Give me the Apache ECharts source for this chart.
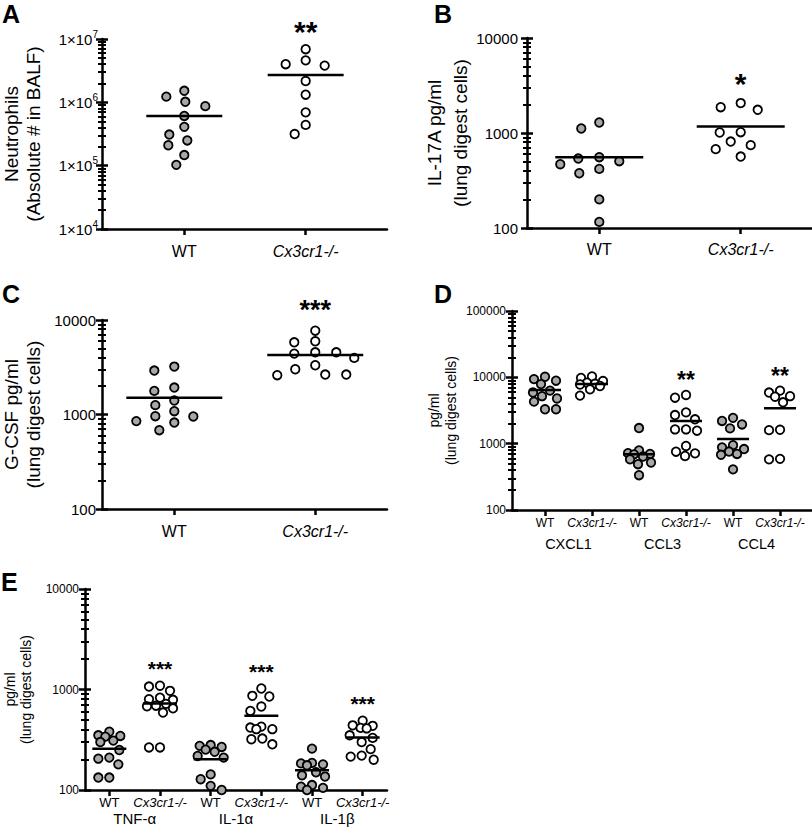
<!DOCTYPE html>
<html><head><meta charset="utf-8">
<script src="https://cdn.jsdelivr.net/npm/echarts@6/dist/echarts.min.js"></script>
<style>html,body{margin:0;padding:0;background:#fff}#c{width:812px;height:837px}</style>
</head><body><div id="c"></div>
<script>
// ---------------- data ----------------
const genotypes = ['WT', 'Cx3cr1-/-'];

// A: Neutrophils (absolute # in BALF)
const neutrophilsWT = [1.52e6, 1.23e6, 1.02e6, 8.7e5, 6.1e5, 4.1e5, 3.1e5, 2.5e5, 2.1e5, 1.47e5, 1.03e5];
const neutrophilsKO = [6.9e6, 4.6e6, 4.0e6, 3.8e6, 2.17e6, 1.32e6, 6.95e5, 4.4e5, 3.16e5];
const neutrophilsLines = [6.1e5, 2.7e6];
const neutrophilsSig = ['', '**'];
const neutrophilsTicks = [1e4, 1e5, 1e6, 1e7];

// B: IL-17A
const il17aWT = [1290, 1115, 556, 538, 505, 469, 419, 377, 200, 116];
const il17aKO = [2065, 1870, 1755, 1020, 1012, 813, 745, 676, 565];
const il17aLines = [556, 1170];
const il17aSig = ['', '*'];
const il17aTicks = [100, 1000, 10000];

// C: G-CSF
const gcsfWT = [3214, 2917, 1928, 1778, 1406, 1256, 1084, 960, 953, 851, 822, 682];
const gcsfKO = [7710, 5955, 5808, 4550, 4550, 4408, 3972, 3320, 3012, 2648, 2648, 2604];
const gcsfLines = [1500, 4264];
const gcsfSig = ['', '***'];
const gcsfTicks = [100, 1000, 10000];

// D: chemokines
const chemokines = ['CXCL1', 'CCL3', 'CCL4'];
const cxcl1WT = [10200, 9400, 8900, 7900, 6300, 5900, 5200, 4800, 4300, 3300, 3300];
const cxcl1KO = [10300, 9800, 8800, 8300, 8000, 7800, 7400, 6600, 5300];
const ccl3WT = [1720, 790, 720, 700, 690, 640, 580, 520, 490, 335];
const ccl3KO = [5420, 4930, 2960, 2700, 2330, 1640, 1640, 1570, 923, 757, 714, 652];
const ccl4WT = [2450, 2200, 1950, 1700, 950, 880, 830, 760, 700, 680, 410];
const ccl4KO = [6300, 5900, 5200, 5100, 4200, 1620, 1600, 590, 580];
const chemokineLines = [6440, 7930, 690, 2200, 1175, 3410];
const chemokineSig = ['', '', '', '**', '', '**'];
const chemokineTicks = [100, 1000, 10000, 100000];

// E: cytokines
const cytokines = ['TNF-\u03b1', 'IL-1\u03b1', 'IL-1\u03b2'];
const tnfWT = [380, 350, 345, 340, 310, 300, 250, 210, 205, 180, 133, 133];
const tnfKO = [1090, 1070, 970, 830, 800, 790, 720, 690, 680, 650, 590, 265, 265];
const il1aWT = [280, 275, 268, 252, 240, 218, 210, 143, 128, 110, 100];
const il1aKO = [1023, 865, 852, 677, 612, 427, 418, 403, 403, 325, 320, 285];
const il1bWT = [258, 186, 184, 180, 176, 150, 140, 136, 112, 108, 105, 100];
const il1bKO = [490, 440, 435, 415, 410, 350, 330, 300, 255, 220, 215, 200];
const cytokineLines = [258, 725, 202, 547, 157, 333];
const cytokineSig = ['', '***', '', '***', '', '***'];
const cytokineTicks = [100, 1000, 10000];

// ---------------- layout / style ----------------
const FONT = '"Liberation Sans", Arial, Helvetica, sans-serif';
const panels = [
  { letter: 'A', lx: 2, ly: 1, grid: { left: 102, top: 39, width: 285, height: 190 },
    xmin: -0.678, xmax: 1.67, ymin: 1e4, ymax: 1e7, ticks: neutrophilsTicks, sci: true,
    tickFont: 15, yLabelMargin: 4, yName: 'Neutrophils\n(Absolute # in BALF)', nameGap: 58, nameFont: 19, nameLH: 22,
    sets: [neutrophilsWT, neutrophilsKO], lines: neutrophilsLines, sig: neutrophilsSig,
    subFont: 16, subMargin: 14, groupNames: null, hw: 38, maxW: 30, ax: 21, ay: 10.5, starFont: 30, starOff: 25 },
  { letter: 'B', lx: 434, ly: 1, grid: { left: 527, top: 38, width: 285, height: 190 },
    xmin: -0.511, xmax: 1.504, ymin: 100, ymax: 1e4, ticks: il17aTicks,
    tickFont: 15, yLabelMargin: 9, yName: 'IL-17A pg/ml\n(lung digest cells)', nameGap: 54, nameFont: 19, nameLH: 26,
    sets: [il17aWT, il17aKO], lines: il17aLines, sig: il17aSig,
    subFont: 16, subMargin: 13, groupNames: null, hw: 44, maxW: 45, ax: 21, ay: 10.5, starFont: 30, starOff: 27 },
  { letter: 'C', lx: 2, ly: 281, grid: { left: 102, top: 320, width: 285, height: 189 },
    xmin: -0.513, xmax: 1.509, ymin: 100, ymax: 1e4, ticks: gcsfTicks,
    tickFont: 15, yLabelMargin: 6, yName: 'G-CSF pg/ml\n(lung digest cells)', nameGap: 58, nameFont: 19, nameLH: 22,
    sets: [gcsfWT, gcsfKO], lines: gcsfLines, sig: gcsfSig,
    subFont: 16, subMargin: 14, groupNames: null, hw: 48, maxW: 48, ax: 21, ay: 10.5, starFont: 27, starOff: 27 },
  { letter: 'D', lx: 434, ly: 281, grid: { left: 512, top: 311, width: 300, height: 199 },
    xmin: -0.702, xmax: 5.68, ymin: 100, ymax: 1e5, ticks: chemokineTicks,
    tickFont: 12, yLabelMargin: 6, yName: 'pg/ml\n(lung digest cells)', nameGap: 53, nameFont: 14, nameLH: 17,
    sets: [cxcl1WT, cxcl1KO, ccl3WT, ccl3KO, ccl4WT, ccl4KO], lines: chemokineLines, sig: chemokineSig,
    subFont: 12, subMargin: 7, groupNames: chemokines, groupFont: 14.5, groupMargin: 26,
    hw: 16, maxW: 12, ax: 11, ay: 11, starFont: 23, starOff: 20 },
  { letter: 'E', lx: 1, ly: 569, grid: { left: 85, top: 589, width: 302, height: 201 },
    xmin: -0.48, xmax: 5.48, ymin: 100, ymax: 1e4, ticks: cytokineTicks,
    tickFont: 12, yLabelMargin: 6, yName: 'pg/ml\n(lung digest cells)', nameGap: 51, nameFont: 14, nameLH: 16,
    sets: [tnfWT, tnfKO, il1aWT, il1aKO, il1bWT, il1bKO], lines: cytokineLines, sig: cytokineSig,
    subFont: 13, subMargin: 6, groupNames: cytokines, groupFont: 15, groupMargin: 21,
    hw: 17, maxW: 13, ax: 11, ay: 11, starFont: 21, starOff: 22 }
];

// beeswarm-style horizontal spreading of points (layout only; y values untouched)
function swarm(values, cat, p) {
  const lmin = Math.log10(p.ymin), lmax = Math.log10(p.ymax);
  const pxPerUnit = p.grid.width / (p.xmax - p.xmin);
  const items = values.map(v => ({ v, y: p.grid.height * (lmax - Math.log10(v)) / (lmax - lmin) }));
  items.sort((a, b) => a.y - b.y);
  const placed = [];
  const dist = (dx, dy) => Math.hypot(dx / p.ax, dy / p.ay);
  return items.map(it => {
    let best = 0, bestD = -1;
    outer:
    for (let k = 0; k <= p.maxW; k++) {
      const cands = k === 0 ? [0] : [-k, k];
      for (const dx of cands) {
        let md = Infinity;
        for (const q of placed) md = Math.min(md, dist(dx - q.dx, it.y - q.y));
        if (md >= 1) { best = dx; break outer; }
        if (md > bestD + 0.001) { bestD = md; best = dx; }
      }
    }
    placed.push({ dx: best, y: it.y });
    return [cat + best / pxPerUnit, it.v];
  });
}

const grid = [], xAxis = [], yAxis = [], series = [], graphic = [];
const black = '#000';

panels.forEach(p => {
  const gi = grid.length;
  grid.push(Object.assign({ containLabel: false, outerBoundsMode: 'none' }, p.grid));
  const cats = p.sets.map((_, i) => i);

  xAxis.push({
    type: 'value', gridIndex: gi, position: 'bottom', min: p.xmin, max: p.xmax, splitLine: { show: false },
    axisLine: { onZero: false, lineStyle: { color: black, width: 2.5 } },
    axisTick: { customValues: cats, length: 6, lineStyle: { color: black, width: 2.5 } },
    axisLabel: {
      customValues: cats, margin: p.subMargin, color: black,
      formatter: v => { const g = genotypes[Math.round(v) % 2]; return g === 'WT' ? '{n|' + g + '}' : '{i|' + g + '}'; },
      rich: {
        n: { fontSize: p.subFont, fontFamily: FONT, color: black },
        i: { fontSize: p.subFont, fontFamily: FONT, fontStyle: 'italic', color: black }
      }
    }
  });
  const xi = xAxis.length - 1;
  if (p.groupNames) {
    xAxis.push({
      type: 'value', gridIndex: gi, position: 'bottom', offset: 0, min: p.xmin, max: p.xmax, splitLine: { show: false },
      axisLine: { show: false, onZero: false }, axisTick: { show: false },
      axisLabel: {
        customValues: p.groupNames.map((_, g) => 2 * g + 0.5), margin: p.groupMargin,
        formatter: v => p.groupNames[Math.round((v - 0.5) / 2)],
        fontSize: p.groupFont, fontFamily: FONT, color: black
      }
    });
  }

  const lmin = Math.round(Math.log10(p.ymin)), lmax = Math.round(Math.log10(p.ymax));
  const minors = [];
  for (let e = lmin; e < lmax; e++) for (let m = 2; m <= 9; m++) minors.push(m * Math.pow(10, e));

  const baseY = { type: 'log', logBase: 10, gridIndex: gi, position: 'left', offset: 0, min: p.ymin, max: p.ymax,
    splitLine: { show: false }, minorTick: { show: false } };
  yAxis.push(Object.assign({}, baseY, {
    axisLine: { onZero: false, lineStyle: { color: black, width: 2.5 } },
    axisTick: { customValues: p.ticks, length: 6, lineStyle: { color: black, width: 2.5 } },
    axisLabel: {
      customValues: p.ticks, margin: p.yLabelMargin, color: black, fontSize: p.tickFont, fontFamily: FONT,
      formatter: p.sci
        ? v => '{b|1\u00d710}{s|' + Math.round(Math.log10(v)) + '}'
        : v => String(v),
      rich: {
        b: { fontSize: p.tickFont, fontFamily: FONT, color: black, lineHeight: 20 },
        s: { fontSize: 10, fontFamily: FONT, color: black, lineHeight: 10, verticalAlign: 'top' }
      }
    },
    name: p.yName, nameLocation: 'middle', nameRotate: 90, nameGap: p.nameGap, nameMoveOverlap: false,
    nameTextStyle: { fontSize: p.nameFont, lineHeight: p.nameLH, fontFamily: FONT, color: black }
  }));
  const yi = yAxis.length - 1;
  const helper = (vals, len, inside, w) => Object.assign({}, baseY, {
    axisLine: { show: false, onZero: false }, axisLabel: { show: false },
    axisTick: { customValues: vals, length: len, inside, lineStyle: { color: black, width: w } }
  });
  yAxis.push(helper(p.ticks, 6, true, 2.5));
  yAxis.push(helper(minors, 4, false, 2));
  yAxis.push(helper(minors, 4, true, 2));

  const wtData = [], koData = [];
  p.sets.forEach((vals, i) => {
    const pts = swarm(vals, i, p);
    (i % 2 === 0 ? wtData : koData).push(...pts);
  });
  const common = { type: 'scatter', xAxisIndex: xi, yAxisIndex: yi, symbol: 'circle', symbolSize: 8.5,
    silent: true, z: 3, clip: false };
  series.push(Object.assign({}, common, { data: wtData,
    itemStyle: { color: '#a8a8a8', borderColor: black, borderWidth: 1.8, opacity: 1 } }));
  series.push(Object.assign({}, common, { data: koData,
    itemStyle: { color: '#ffffff', borderColor: black, borderWidth: 1.8, opacity: 1 } }));

  // mean lines
  series.push({
    type: 'custom', xAxisIndex: xi, yAxisIndex: yi, silent: true, z: 5,
    data: p.lines.map((v, i) => [i, v]), encode: { x: 0, y: 1 },
    renderItem: (params, api) => {
      const c = api.coord([api.value(0), api.value(1)]);
      return { type: 'line', shape: { x1: c[0] - p.hw, y1: c[1], x2: c[0] + p.hw, y2: c[1] },
        style: { stroke: black, lineWidth: 2.5 } };
    }
  });
  // significance stars above highest point of each group
  series.push({
    type: 'custom', xAxisIndex: xi, yAxisIndex: yi, silent: true, z: 5, clip: false,
    data: p.sets.map((vals, i) => [i, Math.max(...vals)]), encode: { x: 0, y: 1 },
    renderItem: (params, api) => {
      const s = p.sig[params.dataIndex];
      if (!s) return null;
      const c = api.coord([api.value(0), api.value(1)]);
      return { type: 'text', x: c[0], y: c[1] - p.starOff + 0.24 * p.starFont,
        style: { text: s, fontSize: p.starFont, fontWeight: 'bold', fontFamily: FONT, fill: black,
          align: 'center', verticalAlign: 'middle' } };
    }
  });

  graphic.push({ type: 'text', left: p.lx, top: p.ly,
    style: { text: p.letter, fontSize: 25, fontWeight: 'bold', fontFamily: FONT, fill: black } });
});

const chart = echarts.init(document.getElementById('c'), null, { renderer: 'svg' });
chart.setOption({
  animation: false,
  backgroundColor: '#ffffff',
  textStyle: { fontFamily: FONT, color: black },
  grid, xAxis, yAxis, series, graphic
});
</script>
</body></html>
